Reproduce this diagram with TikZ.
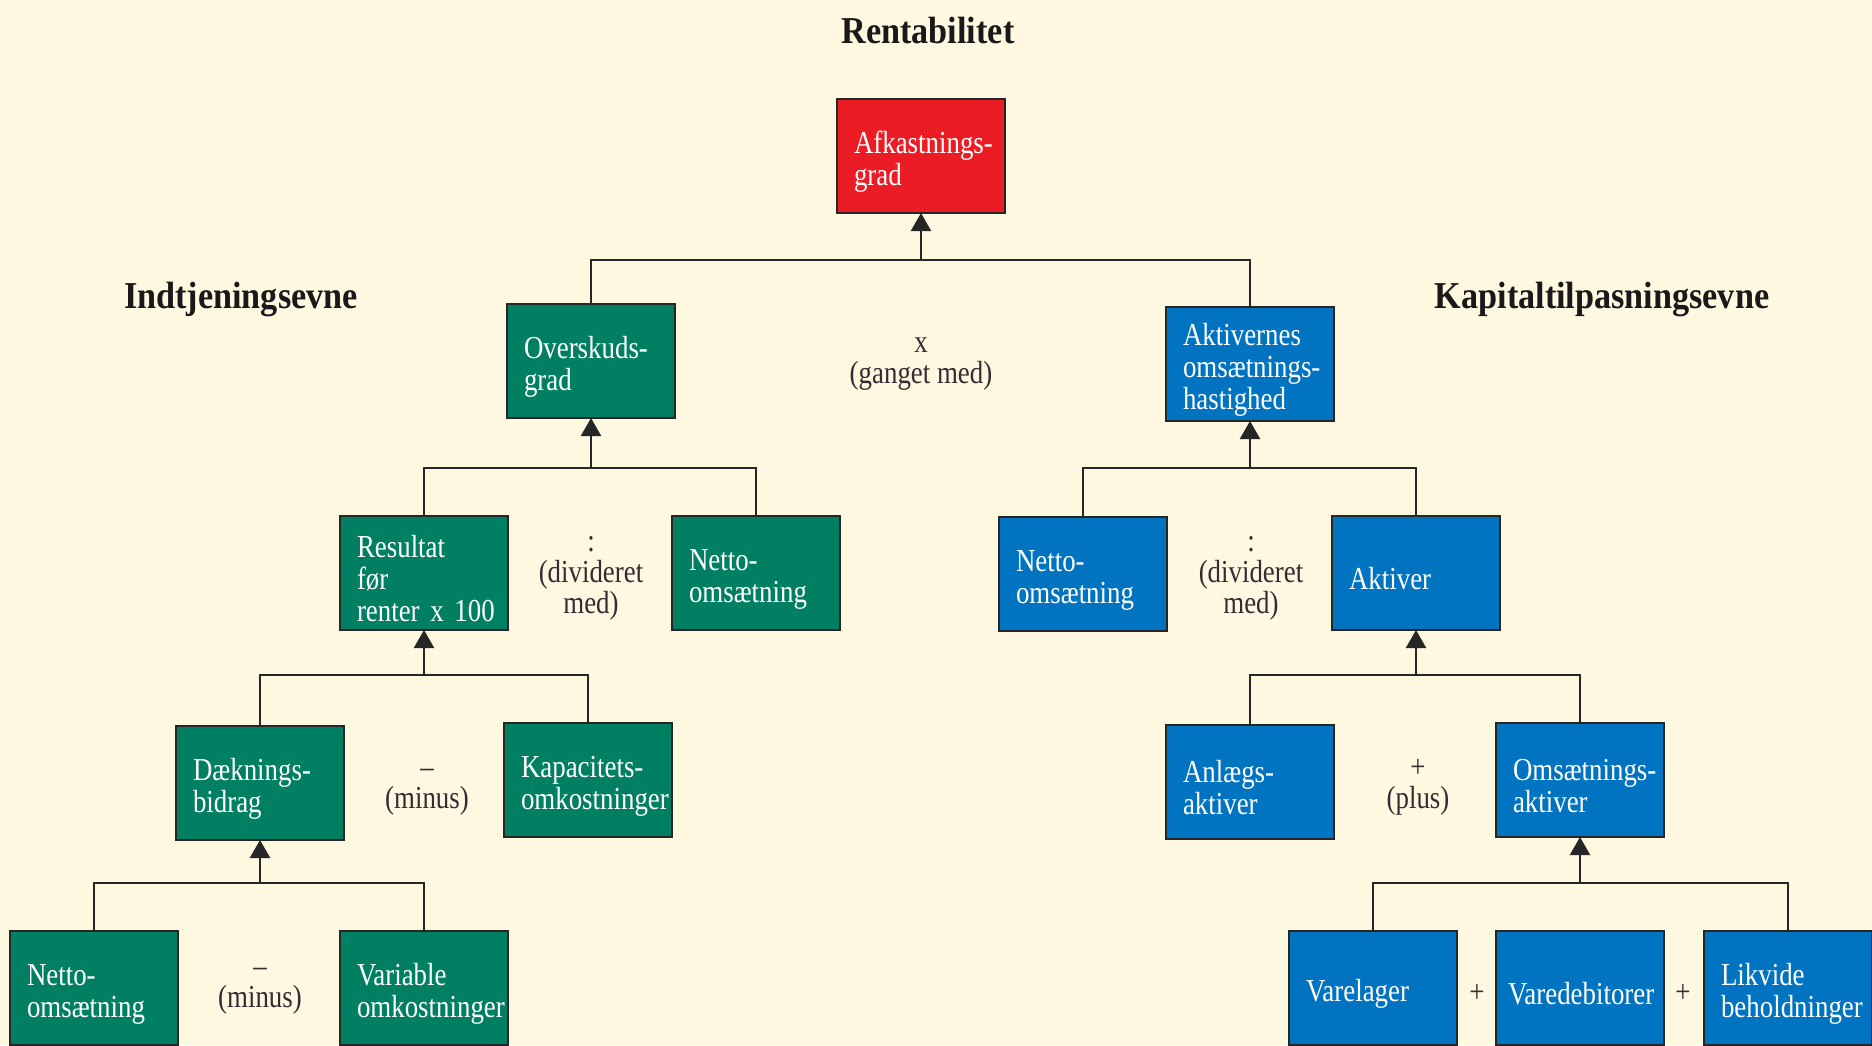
\documentclass[tikz,border=0pt]{standalone}
\usepackage{fontspec}
\setmainfont{Liberation Serif}[FakeStretch=0.84]
\newfontfamily\headfont{Liberation Serif}[FakeStretch=0.9]
\usetikzlibrary{arrows.meta}
\hyphenpenalty=10000
\exhyphenpenalty=10000
\definecolor{bgcream}{HTML}{FEF8E1}
\definecolor{afkred}{HTML}{EC1C24}
\definecolor{dgreen}{HTML}{007F63}
\definecolor{dblue}{HTML}{0073C1}
\definecolor{optext}{rgb}{0.22,0.16,0.2}
\definecolor{linecol}{HTML}{262626}
\tikzset{
  box/.style={draw=linecol, line width=1.2pt, text=white, minimum width=84pt,
    minimum height=57pt, text width=67pt, inner xsep=8.5pt, inner ysep=0pt,
    align=left, font=\fontsize{16}{16}\selectfont, outer sep=0pt,
    execute at begin node={\noindent\rule{0pt}{17pt}}},
  redbox/.style={box, fill=afkred},
  greenbox/.style={box, fill=dgreen},
  bluebox/.style={box, fill=dblue},
  optxt/.style={text=optext, align=center, inner sep=0pt,
    font=\fontsize{16}{15.5}\selectfont},
  headtxt/.style={text=black!90, inner sep=0pt,
    font=\headfont\bfseries\fontsize{19}{22}\selectfont},
  conn/.style={draw=linecol, line width=1.1pt},
  arr/.style={conn, -{Triangle[width=10pt,length=9pt]}}
}
\begin{document}
\begin{tikzpicture}[x=0.5pt,y=-0.5pt]
\fill[bgcream] (0,0) rectangle (1872,1045);
\useasboundingbox (0,0) rectangle (1872,1045);

% headings
\node[headtxt] (hrent) at (928,30) {Rentabilitet};
\node[headtxt] (hind) at (241,300) {Indtjeningsevne};
\node[headtxt] (hkap) at (1602,300) {Kapitaltilpasningsevne};

% boxes
\node[redbox] (afk) at (921,156) {Afkastnings-\\grad};
\node[greenbox] (over) at (591,361) {Overskuds-\\grad};
\node[bluebox] (aktv) at (1250,364) {Aktivernes\\omsætnings-\\hastighed};
\node[greenbox] (res) at (424,573) {Resultat\\før\\\mbox{renter x 100}};
\node[greenbox] (netg) at (756,573) {Netto-\\omsætning};
\node[bluebox] (netb) at (1083,574) {Netto-\\omsætning};
\node[bluebox] (akt) at (1416,573) {Aktiver};
\node[greenbox] (daek) at (260,783) {Dæknings-\\bidrag};
\node[greenbox] (kap) at (588,780) {Kapacitets-\\omkostninger};
\node[bluebox] (anl) at (1250,782) {Anlægs-\\aktiver};
\node[bluebox] (oms) at (1580,780) {Omsætnings-\\aktiver};
\node[greenbox] (netl) at (94,988) {Netto-\\omsætning};
\node[greenbox] (var) at (424,988) {Variable\\omkostninger};
\node[bluebox] (vlag) at (1373,988) {Varelager};
\node[bluebox, inner xsep=6pt, text width=72pt] (vdeb) at (1580,988) {Varedebitorer};
\node[bluebox] (likv) at (1788,988) {Likvide\\beholdninger};

% operator labels
\node[optxt] (op1) at (921,364) {x\\(ganget med)};
\node[optxt] (op2) at (591,578) {:\\(divideret\\med)};
\node[optxt] (op3) at (1251,578) {:\\(divideret\\med)};
\node[optxt] (op4) at (427,792) {--\\(minus)};
\node[optxt] (op5) at (1418,787) {+\\(plus)};
\node[optxt] (op6) at (260,991) {--\\(minus)};
\node[optxt] (op7) at (1477,993) {+};
\node[optxt] (op8) at (1683,993) {+};

% junctions
\coordinate (j1) at (921,260);
\coordinate (j2) at (591,468);
\coordinate (j3) at (1250,468);
\coordinate (j4) at (424,675);
\coordinate (j5) at (1416,675);
\coordinate (j6) at (260,883);
\coordinate (j7) at (1580,883);

% connectors
\draw[conn] (over.north) |- (j1) -| (aktv.north);
\draw[arr] (j1) -- (afk.south);
\draw[conn] (res.north) |- (j2) -| (netg.north);
\draw[arr] (j2) -- (over.south);
\draw[conn] (netb.north) |- (j3) -| (akt.north);
\draw[arr] (j3) -- (aktv.south);
\draw[conn] (daek.north) |- (j4) -| (kap.north);
\draw[arr] (j4) -- (res.south);
\draw[conn] (anl.north) |- (j5) -| (oms.north);
\draw[arr] (j5) -- (akt.south);
\draw[conn] (netl.north) |- (j6) -| (var.north);
\draw[arr] (j6) -- (daek.south);
\draw[conn] (vlag.north) |- (j7) -| (likv.north);
\draw[arr] (j7) -- (oms.south);
\end{tikzpicture}
\end{document}
